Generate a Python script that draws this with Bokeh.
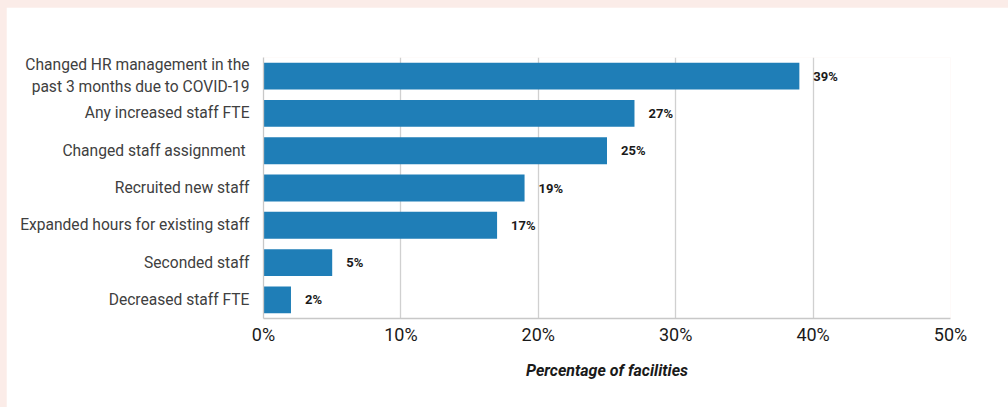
from bokeh.plotting import figure
from bokeh.models import ColumnDataSource, FactorRange, FixedTicker, CustomJSTickFormatter
from bokeh.core.properties import value
from bokeh.embed import file_html
from bokeh.resources import INLINE

categories = [
    "Changed HR management in the\npast 3 months due to COVID-19",
    "Any increased staff FTE",
    "Changed staff assignment ",
    "Recruited new staff",
    "Expanded hours for existing staff",
    "Seconded staff",
    "Decreased staff FTE",
]
values = [39, 27, 25, 19, 17, 5, 2]
labels = ["39%", "27%", "25%", "19%", "17%", "5%", "2%"]
x_ticks = [0, 10, 20, 30, 40, 50]

FONT = "Roboto"
BAR = "#1f7eb7"

src = ColumnDataSource(dict(cat=categories, val=values, lab=labels))

p = figure(
    width=1002, height=400,
    y_range=FactorRange(*reversed(categories)),
    x_range=(0, 50),
    output_backend="svg", toolbar_location=None,
    min_border_left=257, min_border_top=50, min_border_right=58, min_border_bottom=89,
)
p.outline_line_color = None
p.background_fill_color = "white"
p.border_fill_color = "white"

p.hbar(y="cat", right="val", left=0, height=0.72, source=src, color=BAR, line_color=None)
p.text(x="val", y="cat", text="lab", source=src, x_offset=14,
       text_font=value(FONT), text_font_style="bold", text_font_size="13px",
       text_baseline="middle", text_align="left", text_color="#1a1a1a")

p.ygrid.grid_line_color = None
p.xgrid.grid_line_color = "#d0d0d0"
p.xgrid.grid_line_width = 1.3
p.xgrid.ticker = FixedTicker(ticks=x_ticks)

xa = p.xaxis[0]
xa.ticker = FixedTicker(ticks=x_ticks)
xa.formatter = CustomJSTickFormatter(code="return tick + '%';")
xa.axis_line_color = "#c8c8c8"
xa.axis_line_width = 1.3
xa.major_tick_line_color = None
xa.minor_tick_line_color = None
xa.major_label_text_font = FONT
xa.major_label_text_font_size = "18px"
xa.major_label_text_color = "#1a1a1a"
xa.major_label_standoff = -1
xa.axis_label = "Percentage of facilities"
xa.axis_label_text_font = FONT
xa.axis_label_text_font_style = "bold italic"
xa.axis_label_text_font_size = "16px"
xa.axis_label_text_color = "#1a1a1a"
xa.axis_label_standoff = 13

ya = p.yaxis[0]
ya.axis_line_color = "#c8c8c8"
ya.axis_line_width = 1.3
ya.major_tick_line_color = None
ya.minor_tick_line_color = None
ya.major_label_text_font = FONT
ya.major_label_text_font_size = "15.6px"
ya.major_label_text_color = "#404040"
ya.major_label_standoff = 8

html = file_html(p, INLINE)
page_style = ("<style>html, body { background-color: #fbece8 !important; }"
              " body { padding: 7px 0 0 6px !important; }</style>")
html = html.replace("</head>", page_style + "</head>", 1)
open("out.html", "w").write(html)
